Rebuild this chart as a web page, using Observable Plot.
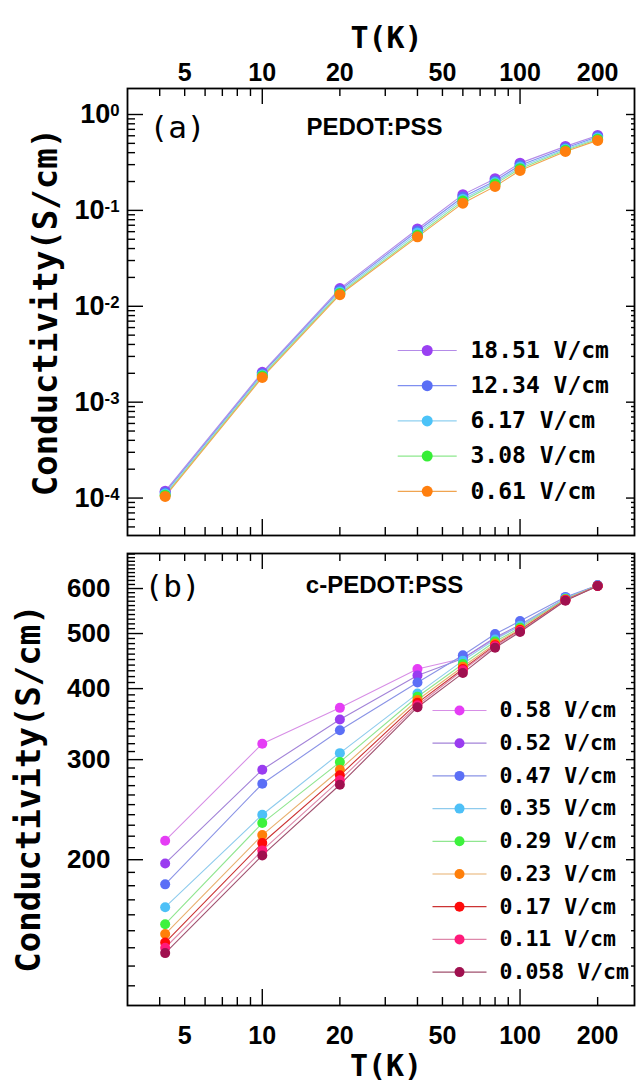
<!DOCTYPE html>
<html><head><meta charset="utf-8">
<script src="https://cdn.jsdelivr.net/npm/d3@7"></script>
<script src="https://cdn.jsdelivr.net/npm/@observablehq/plot@0.6"></script>
<style>
html,body{margin:0;padding:0;background:#fff;}
#chart svg{display:block;}
</style></head><body><div id="chart"></div>
<script>
// ---------- data ----------
const tempK = [4.2, 10, 20, 40, 60, 80, 100, 150, 200];

// panel (a) PEDOT:PSS
const fieldsA = ["18.51 V/cm", "12.34 V/cm", "6.17 V/cm", "3.08 V/cm", "0.61 V/cm"];
const sigmaA_1851 = [1.18e-4, 2.05e-3, 1.53e-2, 6.4e-2, 0.146, 0.214, 0.311, 0.465, 0.605];
const sigmaA_1234 = [1.14e-4, 1.98e-3, 1.47e-2, 6.1e-2, 0.138, 0.203, 0.296, 0.448, 0.585];
const sigmaA_617  = [1.10e-4, 1.92e-3, 1.41e-2, 5.8e-2, 0.131, 0.195, 0.283, 0.435, 0.568];
const sigmaA_308  = [1.07e-4, 1.87e-3, 1.36e-2, 5.5e-2, 0.125, 0.188, 0.272, 0.423, 0.552];
const sigmaA_061  = [1.04e-4, 1.81e-3, 1.32e-2, 5.3e-2, 0.119, 0.178, 0.261, 0.412, 0.537];
const dotColorsA  = ["#9a40f2", "#5a6ef5", "#4cc3f8", "#36ee36", "#ff7f0e"];
const lineColorsA = ["#b48be8", "#7f8ff0", "#8fd0f0", "#8ee88e", "#f0a450"];

// panel (b) c-PEDOT:PSS
const fieldsB = ["0.58 V/cm", "0.52 V/cm", "0.47 V/cm", "0.35 V/cm", "0.29 V/cm", "0.23 V/cm", "0.17 V/cm", "0.11 V/cm", "0.058 V/cm"];
const sigmaB_058  = [216, 320, 370, 433, 452, 490, 515, 576, 608];
const sigmaB_052  = [197, 288, 353, 422, 452, 492, 518, 577, 608];
const sigmaB_047  = [181, 272, 338, 410, 458, 499, 526, 580, 608];
const sigmaB_035  = [165, 240, 308, 392, 448, 488, 516, 577, 607];
const sigmaB_029  = [154, 232, 297, 387, 442, 484, 512, 575, 607];
const sigmaB_023  = [148, 221, 288, 382, 437, 480, 509, 574, 606];
const sigmaB_017  = [143, 214, 281.5, 377.6, 433, 477, 507, 573, 606];
const sigmaB_011  = [140, 207.7, 276, 374, 431, 475, 505, 572, 606];
const sigmaB_0058 = [137, 203.5, 271, 371, 426, 472, 503, 571, 606];
const dotColorsB  = ["#e53df5", "#9a3cf0", "#5b6ff6", "#4dc0f7", "#3df23d", "#ff7f0a", "#ff0a0a", "#ff1a7a", "#a0104f"];
const lineColorsB = ["#d78ee6", "#a383d8", "#8a93e6", "#8ecbed", "#90e690", "#e8b06e", "#cc3333", "#dd88aa", "#a0506e"];

// tick labels
const xTickLabels = [5, 10, 20, 50, 100, 200];
const xMajorTicks = [10, 100];
const xMinorTicks = [4, 5, 6, 7, 8, 9, 20, 30, 40, 50, 60, 70, 80, 90, 200];
const yTickLabelsA = [1e-4, 1e-3, 1e-2, 1e-1, 1];
const yTickLabelsB = [200, 300, 400, 500, 600];

// ---------- layout ----------
const W = 636, marginLeft = 127, marginRight = 2;
const frameW = W - marginLeft - marginRight;
const xDomain = [3, 278];
const HA = 545, mtA = 88, mbA = 10, frameHA = HA - mtA - mbA;
const HB = 538, mtB = 8, mbB = 78, frameHB = HB - mtB - mbB;
const mono = "DejaVu Sans Mono";
const sans = "Liberation Sans";

const seriesA = [sigmaA_1851, sigmaA_1234, sigmaA_617, sigmaA_308, sigmaA_061];
const seriesB = [sigmaB_058, sigmaB_052, sigmaB_047, sigmaB_035, sigmaB_029, sigmaB_023, sigmaB_017, sigmaB_011, sigmaB_0058];
const rowsA = fieldsA.flatMap((f, i) => tempK.map((T, j) => ({field: f, i, T, sigma: seriesA[i][j]})));
const rowsB = fieldsB.flatMap((f, i) => tempK.map((T, j) => ({field: f, i, T, sigma: seriesB[i][j]})));

const pow10 = d => "10^" + Math.round(Math.log10(d));

function minorLog(lo, hi) {
  const out = [];
  for (let e = Math.floor(Math.log10(lo)); e <= Math.ceil(Math.log10(hi)); e++)
    for (let k = 2; k <= 9; k++) { const v = k * Math.pow(10, e); if (v >= lo && v <= hi) out.push(v); }
  return out;
}

function frameTicks(frameH, yMinor, yMajor) {
  const s = {stroke: "black", strokeWidth: 1.4};
  return [
    Plot.tickX(xMinorTicks, {x: d => d, insetBottom: frameH - 8, ...s}),
    Plot.tickX(xMajorTicks, {x: d => d, insetBottom: frameH - 16, ...s}),
    Plot.tickX(xMinorTicks, {x: d => d, insetTop: frameH - 8, ...s}),
    Plot.tickX(xMajorTicks, {x: d => d, insetTop: frameH - 16, ...s}),
    Plot.tickY(yMinor, {y: d => d, insetRight: frameW - 8, ...s}),
    Plot.tickY(yMajor, {y: d => d, insetRight: frameW - 16, ...s}),
    Plot.tickY(yMinor, {y: d => d, insetLeft: frameW - 3, ...s}),
    Plot.tickY(yMajor, {y: d => d, insetLeft: frameW - 8, ...s}),
    Plot.frame({stroke: "black", strokeWidth: 1.8})
  ];
}

function legend(fields, dotColors, lineColors, {x0, y0, step, half, textX, fontSize, r}) {
  const hline = {draw(ctx) { ctx.moveTo(-half, 0); ctx.lineTo(half, 0); }};
  return fields.flatMap((f, i) => [
    Plot.dot([0], {frameAnchor: "top-left", dx: x0, dy: y0 + step * i, symbol: hline, r: 5, fill: "none", stroke: lineColors[i], strokeWidth: 1.2}),
    Plot.dot([0], {frameAnchor: "top-left", dx: x0, dy: y0 + step * i, r, fill: dotColors[i]}),
    Plot.text([f], {frameAnchor: "top-left", dx: textX, dy: y0 + step * i, text: d => d, textAnchor: "start", lineAnchor: "middle", fontFamily: mono, fontWeight: "bold", fontSize, fill: "black"})
  ]);
}

function dataMarks(rows, fields, dotColors, lineColors, r) {
  return [
    ...fields.map((f, i) => Plot.line(rows.filter(d => d.i === i), {x: "T", y: "sigma", stroke: lineColors[i], strokeWidth: 1.1})),
    ...fields.map((f, i) => Plot.dot(rows.filter(d => d.i === i), {x: "T", y: "sigma", r, fill: dotColors[i]}))
  ];
}

// ---------- panel (a) ----------
const yDomainA = [4.07e-5, 1.867];
const plotA = Plot.plot({
  width: W, height: HA, marginTop: mtA, marginBottom: mbA, marginLeft, marginRight,
  x: {type: "log", domain: xDomain},
  y: {type: "log", domain: yDomainA},
  style: {fontFamily: sans, color: "black", background: "white"},
  marks: [
    ...frameTicks(frameHA, minorLog(yDomainA[0], yDomainA[1]), yTickLabelsA),
    Plot.axisX({anchor: "top", ticks: xTickLabels, tickFormat: d => `${d}`, tickSize: 0, tickPadding: 8, fontSize: 25, fontWeight: "bold", fontFamily: sans, label: null}),
    Plot.axisY({anchor: "left", ticks: yTickLabelsA, tickFormat: pow10, tickSize: 0, tickPadding: 8, fontSize: 27, fontWeight: "bold", fontFamily: sans, label: null}),
    Plot.text(["T(K)"], {frameAnchor: "top", dx: 5.5, dy: -50, text: d => d, lineAnchor: "middle", fontFamily: mono, fontWeight: "bold", fontSize: 30, fill: "black"}),
    Plot.text(["Conductivity(S/cm)"], {frameAnchor: "left", dx: -81, dy: 0, rotate: -90, text: d => d, textAnchor: "middle", lineAnchor: "middle", fontFamily: mono, fontWeight: "bold", fontSize: 34, fill: "black"}),
    Plot.text(["(a)"], {frameAnchor: "top-left", dx: 22, dy: 40, text: d => d, textAnchor: "start", lineAnchor: "middle", fontFamily: mono, fontSize: 31, fill: "black"}),
    Plot.text(["PEDOT:PSS"], {frameAnchor: "top", dx: -6.5, dy: 39, text: d => d, lineAnchor: "middle", fontFamily: sans, fontWeight: "bold", fontSize: 24, fill: "black"}),
    ...dataMarks(rowsA, fieldsA, dotColorsA, lineColorsA, 5.5),
    ...legend(fieldsA, dotColorsA, lineColorsA, {x0: 299.7, y0: 262, step: 35.2, half: 29.5, textX: 343, fontSize: 23, r: 5.5})
  ]
});

// superscript exponents on the panel (a) y tick labels
d3.select(plotA).selectAll('g[aria-label="y-axis tick label"] text').each(function() {
  const s = this.textContent;
  if (!s.includes("^")) return;
  const [b, e] = s.split("^");
  const t = d3.select(this);
  t.text(b);
  t.append("tspan").attr("dy", "-0.42em").attr("font-size", "0.62em").text(e);
});

// ---------- panel (b) ----------
const yDomainB = [110.8, 691.5];
const yMinorB = d3.range(120, 691, 10).filter(v => v % 100 !== 0);
const plotB = Plot.plot({
  width: W, height: HB, marginTop: mtB, marginBottom: mbB, marginLeft, marginRight,
  x: {type: "log", domain: xDomain},
  y: {type: "log", domain: yDomainB},
  style: {fontFamily: sans, color: "black", background: "white"},
  marks: [
    ...frameTicks(frameHB, yMinorB, yTickLabelsB),
    Plot.axisX({anchor: "bottom", ticks: xTickLabels, tickFormat: d => `${d}`, tickSize: 0, tickPadding: 21, fontSize: 25, fontWeight: "bold", fontFamily: sans, label: null}),
    Plot.axisY({anchor: "left", ticks: yTickLabelsB, tickFormat: d => `${d}`, tickSize: 0, tickPadding: 17, fontSize: 26, fontWeight: "bold", fontFamily: sans, label: null}),
    Plot.text(["T(K)"], {frameAnchor: "bottom", dx: 5, dy: 61, text: d => d, lineAnchor: "middle", fontFamily: mono, fontWeight: "bold", fontSize: 30, fill: "black"}),
    Plot.text(["Conductivity(S/cm)"], {frameAnchor: "left", dx: -98, dy: 9, rotate: -90, text: d => d, textAnchor: "middle", lineAnchor: "middle", fontFamily: mono, fontWeight: "bold", fontSize: 34, fill: "black"}),
    Plot.text(["(b)"], {frameAnchor: "top-left", dx: 17, dy: 34, text: d => d, textAnchor: "start", lineAnchor: "middle", fontFamily: mono, fontSize: 31, fill: "black"}),
    Plot.text(["c-PEDOT:PSS"], {frameAnchor: "top", dx: 3.5, dy: 32, text: d => d, lineAnchor: "middle", fontFamily: sans, fontWeight: "bold", fontSize: 24, fill: "black"}),
    ...dataMarks(rowsB, fieldsB, dotColorsB, lineColorsB, 5),
    ...legend(fieldsB, dotColorsB, lineColorsB, {x0: 332, y0: 157, step: 32.7, half: 27, textX: 372, fontSize: 21.5, r: 5})
  ]
});

const chart = document.getElementById("chart");
chart.appendChild(plotA);
chart.appendChild(plotB);
</script></body></html>
